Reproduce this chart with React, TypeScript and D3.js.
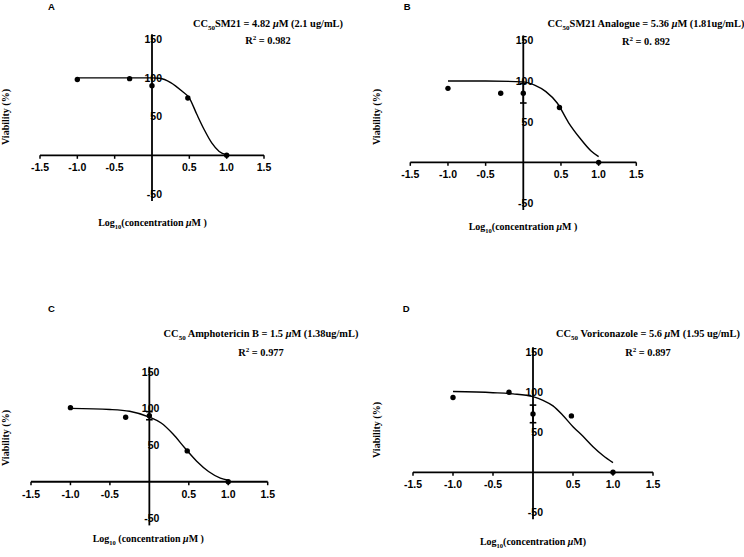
import { useEffect, useRef } from 'react'
import * as d3 from 'd3'

// --- data ---
const panelLetters = ['A', 'B', 'C', 'D']
const drugNames = ['SM21', 'SM21 Analogue', 'Amphotericin B', 'Voriconazole']
const namePrefix = ['', '', ' ', ' ']
const cc50Values = ['4.82', '5.36', '1.5', '5.6']
const cc50Mass = ['(2.1 ug/mL)', '(1.81ug/mL)', '(1.38ug/mL)', '(1.95 ug/mL)']
const r2Values = ['0.982', '0. 892', '0.977', '0.897']
const xTitleTail = ['(concentration ', '(concentration ', ' (concentration ', '(concentration ']
const xTitleEnd = [' )', ' )', ' )', ')']

const xTicks = [-1.5, -1.0, -0.5, 0.5, 1.0, 1.5]
const yTicks = [150, 100, 50, -50]

const logConc = [-1, -0.3, 0, 0.48, 1]
const viability = [
  [98, 99, 90, 74, 0],
  [91, 85, 85, 67.5, 0],
  [101, 88, 90, 42, 0],
  [93.5, 100, 73, 70.5, 0],
]
const viabilityErr = [
  [0, 0, 0, 0, 0],
  [0, 0, 12, 0, 0],
  [0, 0, 5.5, 0, 0],
  [0, 0, 11, 0, 0],
]

// fitted curves
const fitX = [
  [-1, -0.5, 0, 0.1, 0.25, 0.4, 0.5, 0.6, 0.7, 0.8, 0.9, 1],
  [-1, -0.5, 0, 0.15, 0.3, 0.45, 0.6, 0.75, 0.9, 1],
  [-1, -0.5, -0.25, 0, 0.15, 0.3, 0.45, 0.6, 0.75, 0.9, 1],
  [-1, -0.5, -0.25, 0, 0.125, 0.25, 0.375, 0.5, 0.625, 0.75, 0.875, 1],
]
const fitY = [
  [100, 100, 100, 99.5, 94, 83, 74, 53, 33, 16, 5, 0.5],
  [100, 100, 99, 95, 87, 73, 49, 30, 14, 7],
  [100, 98.5, 96, 88, 80, 65, 46, 28, 14, 5, 2],
  [101, 99.5, 98, 94.5, 90, 83, 71, 57, 45, 32, 21, 12],
]

// --- layout of each panel on the page ---
const layouts = [
  { x0: 40, x1: 264, yTop: 39.2, yBot: 194, letterX: 48, letterY: 9.8, ccX: 268, ccY: 26.7, r2Y: 44, ylabX: 9, ylabY: 117, xtX: 152.5, xtY: 226 },
  { x0: 410.3, x1: 636.3, yTop: 40.4, yBot: 203, letterX: 403.7, letterY: 9.8, ccX: 646, ccY: 26.7, r2Y: 45, ylabX: 380, ylabY: 117, xtX: 523, xtY: 230 },
  { x0: 31, x1: 267.7, yTop: 371.7, yBot: 518.4, letterX: 48, letterY: 311.5, ccX: 261, ccY: 337.3, r2Y: 355.7, ylabX: 9, ylabY: 438, xtX: 148.3, xtY: 542 },
  { x0: 413, x1: 653, yTop: 352.3, yBot: 512.3, letterX: 402.7, letterY: 311.5, ccX: 648, ccY: 337.3, r2Y: 356, ylabX: 380, ylabY: 430, xtX: 533, xtY: 545 },
]

const serif = '"Liberation Serif", "Times New Roman", serif'
const sans = '"Liberation Sans", Arial, sans-serif'

export default function App() {
  const svgRef = useRef<SVGSVGElement>(null)

  useEffect(() => {
    if (!svgRef.current) return
    const svg = d3.select(svgRef.current)
    svg.selectAll('*').remove()

    layouts.forEach((L, i) => {
      const x = d3.scaleLinear().domain([-1.5, 1.5]).range([L.x0, L.x1])
      const y = d3.scaleLinear().domain([-50, 150]).range([L.yBot, L.yTop])
      const g = svg.append('g')

      // x axis
      g.append('line')
        .attr('x1', x(-1.5)).attr('x2', x(1.5))
        .attr('y1', y(0)).attr('y2', y(0))
        .attr('stroke', '#000').attr('stroke-width', 1.8)
      g.selectAll('.xt').data(xTicks).join('line')
        .attr('x1', d => x(d)).attr('x2', d => x(d))
        .attr('y1', y(0)).attr('y2', y(0) + 3.5)
        .attr('stroke', '#000').attr('stroke-width', 1.5)
      g.selectAll('.xl').data(xTicks).join('text')
        .attr('x', d => x(d)).attr('y', y(0) + 16)
        .attr('text-anchor', 'middle')
        .attr('font-family', sans).attr('font-weight', 'bold').attr('font-size', 10.5)
        .text(d => d.toFixed(1))

      // y axis
      g.append('line')
        .attr('x1', x(0)).attr('x2', x(0))
        .attr('y1', y(150) - 5).attr('y2', y(-50) + 7)
        .attr('stroke', '#000').attr('stroke-width', 1.8)
      g.selectAll('.yl').data(yTicks).join('text')
        .attr('x', x(0) + 10).attr('y', d => y(d) + 3.8)
        .attr('text-anchor', 'end')
        .attr('font-family', sans).attr('font-weight', 'bold').attr('font-size', 10.5)
        .text(d => String(d))

      // fitted curve
      const pts = fitX[i].map((v, k) => [v, fitY[i][k]] as [number, number])
      g.append('path')
        .attr('d', d3.line<[number, number]>()
          .x(d => x(d[0])).y(d => y(d[1]))
          .curve(d3.curveMonotoneX)(pts))
        .attr('fill', 'none').attr('stroke', '#000').attr('stroke-width', 1.4)

      // error bars
      logConc.forEach((c, k) => {
        const e = viabilityErr[i][k]
        if (!e) return
        const v = viability[i][k]
        g.append('line')
          .attr('x1', x(c)).attr('x2', x(c))
          .attr('y1', y(v + e)).attr('y2', y(v - e))
          .attr('stroke', '#000').attr('stroke-width', 1.4)
        ;[v + e, v - e].forEach(t => {
          g.append('line')
            .attr('x1', x(c) - 3.3).attr('x2', x(c) + 3.3)
            .attr('y1', y(t)).attr('y2', y(t))
            .attr('stroke', '#000').attr('stroke-width', 1.6)
        })
      })

      // points
      g.selectAll('.pt').data(logConc).join('circle')
        .attr('cx', d => x(d))
        .attr('cy', (_, k) => y(viability[i][k]))
        .attr('r', 2.7)
        .attr('fill', '#000')

      // panel letter
      g.append('text')
        .attr('x', L.letterX).attr('y', L.letterY)
        .attr('font-family', sans).attr('font-weight', 'bold').attr('font-size', 9.5)
        .text(panelLetters[i])

      // CC50 annotation
      const cc = g.append('text')
        .attr('x', L.ccX).attr('y', L.ccY)
        .attr('text-anchor', 'middle')
        .attr('font-family', serif).attr('font-weight', 'bold').attr('font-size', 10.4)
      cc.append('tspan').text('CC')
      cc.append('tspan').attr('font-size', 7).attr('dy', 3).text('50')
      cc.append('tspan').attr('dy', -3).text(`${namePrefix[i]}${drugNames[i]} = ${cc50Values[i]} `)
      cc.append('tspan').attr('font-style', 'italic').text('\u03bc')
      cc.append('tspan').text(`M ${cc50Mass[i]}`)

      const r2 = g.append('text')
        .attr('x', L.ccX).attr('y', L.r2Y)
        .attr('text-anchor', 'middle')
        .attr('font-family', serif).attr('font-weight', 'bold').attr('font-size', 10.4)
      r2.append('tspan').text('R')
      r2.append('tspan').attr('font-size', 7).attr('dy', -4).text('2')
      r2.append('tspan').attr('dy', 4).text(` = ${r2Values[i]}`)

      // y title
      g.append('text')
        .attr('transform', `translate(${L.ylabX},${L.ylabY}) rotate(-90)`)
        .attr('text-anchor', 'middle')
        .attr('font-family', serif).attr('font-weight', 'bold').attr('font-size', 10)
        .text('Viability (%)')

      // x title
      const xt = g.append('text')
        .attr('x', L.xtX).attr('y', L.xtY)
        .attr('text-anchor', 'middle')
        .attr('font-family', serif).attr('font-weight', 'bold').attr('font-size', 10)
      xt.append('tspan').text('Log')
      xt.append('tspan').attr('font-size', 6.5).attr('dy', 2.5).text('10')
      xt.append('tspan').attr('dy', -2.5).text(xTitleTail[i])
      xt.append('tspan').attr('font-style', 'italic').text('\u03bc')
      xt.append('tspan').text(`M${xTitleEnd[i]}`)
    })
  }, [])

  return (
    <svg
      ref={svgRef}
      width={744}
      height={557}
      style={{ position: 'absolute', left: 0, top: 0, background: '#fff' }}
    />
  )
}
